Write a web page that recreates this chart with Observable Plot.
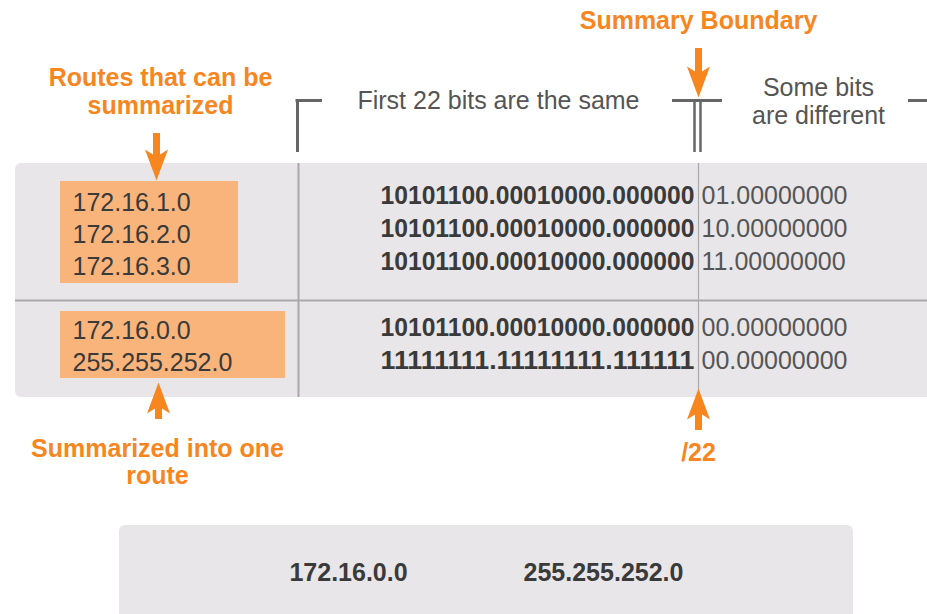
<!DOCTYPE html>
<html>
<head>
<meta charset="utf-8">
<script src="https://cdn.jsdelivr.net/npm/d3@7"></script>
<script src="https://cdn.jsdelivr.net/npm/@observablehq/plot@0.6"></script>
<style>
  html, body { margin: 0; padding: 0; background: #fff; }
  #chart svg { display: block; }
  #chart svg text { font-family: "Liberation Sans", Arial, sans-serif; }
</style>
</head>
<body>
<div id="chart"></div>
<script>
// ---- content ----
const routes = ["172.16.1.0", "172.16.2.0", "172.16.3.0"];
const summaryRoute = ["172.16.0.0", "255.255.252.0"];
const routeCommonBits = ["10101100.00010000.000000", "10101100.00010000.000000", "10101100.00010000.000000"];
const routeOtherBits = ["01.00000000", "10.00000000", "11.00000000"];
const summaryCommonBits = ["10101100.00010000.000000", "11111111.11111111.111111"];
const summaryOtherBits = ["00.00000000", "00.00000000"];
const prefixLength = 22;
const headerSame = `First ${prefixLength} bits are the same`;
const headerDiff = "Some bits\nare different";
const boundaryLabel = "Summary Boundary";
const routesLabel = "Routes that can be\nsummarized";
const summarizedLabel = "Summarized into one\nroute";
const prefixLabel = `/${prefixLength}`;

// ---- layout (diagram coordinates, pixels) ----
const W = 927, H = 614;
const ORANGE = "#f7861f", BOX = "#f9b47c", PANEL = "#e8e6e8";
const DARK = "#3a3a3a", MID = "#555555", LINE = "#a9a9a9", BRACKET = "#666666";
const FONT = "Liberation Sans";
const panel = {x1: 15, x2: W + 20, y1: 163, y2: 397, split: 300};
const colLeft = 298, boundaryX = 698;
const bitsWidth = 314; // rendered width of the common-prefix column
const rowTop = (i) => 195 + i * 33;
const rowBot = (i) => 327 + i * 33;
const routeTop = (i) => 202 + i * 32;
const routeBot = (i) => 330 + i * 32;
const FS = 25;

const topRows = routes.map((r, i) => ({route: r, common: routeCommonBits[i], other: routeOtherBits[i], yb: rowTop(i), yr: routeTop(i)}));
const botRows = summaryRoute.map((r, i) => ({route: r, common: summaryCommonBits[i], other: summaryOtherBits[i], yb: rowBot(i), yr: routeBot(i)}));
const rows = topRows.concat(botRows);

// arrowhead symbol, pointing up, origin at the tip
const HEAD_LEN = 31, HEAD_JOIN = 26;
const arrowHead = {
  draw(context) {
    context.moveTo(0, 0);
    context.lineTo(11.5, HEAD_LEN);
    context.lineTo(3.5, HEAD_JOIN);
    context.lineTo(-3.5, HEAD_JOIN);
    context.lineTo(-11.5, HEAD_LEN);
    context.closePath();
  }
};
function arrow(x, yTip, yTail) {
  const down = yTail < yTip;
  const join = down ? yTip - HEAD_JOIN + 6 : yTip + HEAD_JOIN - 6;
  return [
    Plot.ruleX([x], {y1: yTail, y2: join, stroke: ORANGE, strokeWidth: 7}),
    Plot.dot([x], {x: d => d, y: () => yTip, symbol: arrowHead, rotate: down ? 180 : 0, fill: ORANGE, stroke: "none"})
  ];
}

const T = (data, opts) => Plot.text(data, {fontFamily: FONT, fontSize: FS, lineAnchor: "middle", ...opts});

const chart = Plot.plot({
  width: W,
  height: H,
  margin: 0,
  x: {domain: [0, W], axis: null},
  y: {domain: [H, 0], axis: null},
  style: {fontFamily: FONT, background: "#fff"},
  marks: [
    Plot.rect([panel], {x1: "x1", x2: "x2", y1: "y1", y2: "y2", fill: PANEL, rx: 6}),
    Plot.rect([{x1: 119, x2: 853, y1: 525, y2: H + 20}], {x1: "x1", x2: "x2", y1: "y1", y2: "y2", fill: PANEL, rx: 6}),
    Plot.ruleY([panel.split], {x1: panel.x1, x2: W, stroke: LINE, strokeWidth: 2}),
    Plot.ruleX([colLeft], {y1: panel.y1, y2: panel.y2, stroke: LINE, strokeWidth: 2}),
    Plot.ruleX([boundaryX], {y1: panel.y1, y2: panel.y2, stroke: LINE, strokeWidth: 1.2}),
    Plot.ruleX([colLeft - 1], {y1: 99, y2: 152, stroke: BRACKET, strokeWidth: 3}),
    Plot.ruleY([100], {x1: colLeft - 2.5, x2: 322, stroke: BRACKET, strokeWidth: 3}),
    Plot.ruleY([100], {x1: boundaryX - 26, x2: boundaryX + 24, stroke: BRACKET, strokeWidth: 3}),
    Plot.ruleX([boundaryX - 4, boundaryX + 2], {y1: 100, y2: 152, stroke: BRACKET, strokeWidth: 2.5}),
    Plot.ruleY([100], {x1: 908, x2: W, stroke: BRACKET, strokeWidth: 3}),
    T([headerSame], {x: 498, y: 100, text: d => d, fill: MID}),
    T([headerDiff], {x: 818, y: 101, text: d => d, fill: MID, lineHeight: 1.12}),
    T([boundaryLabel], {x: 698, y: 20, text: d => d, fontWeight: "bold", fill: ORANGE}),
    T([routesLabel], {x: 160, y: 91, text: d => d, fontWeight: "bold", fill: ORANGE, lineHeight: 1.12}),
    T([summarizedLabel], {x: 157, y: 461, text: d => d, fontWeight: "bold", fill: ORANGE, lineHeight: 1.1}),
    T([prefixLabel], {x: 698, y: 452, text: d => d, fontWeight: "bold", fill: ORANGE}),
    Plot.rect([{x1: 60, x2: 238, y1: 181, y2: 283}, {x1: 60, x2: 285, y1: 311, y2: 378}], {x1: "x1", x2: "x2", y1: "y1", y2: "y2", fill: BOX}),
    ...arrow(698, 97, 48),
    ...arrow(156, 180, 133),
    ...arrow(158, 382, 419),
    ...arrow(698, 388, 430),
    T(rows, {x: 72, y: "yr", text: "route", fill: DARK, textAnchor: "start"}),
    T(rows, {x: boundaryX - 4, y: "yb", text: "common", fontWeight: "bold", fill: DARK, textAnchor: "end"}),
    T(rows, {x: boundaryX + 3, y: "yb", text: "other", fill: MID, textAnchor: "start"}),
    T(summaryRoute, {x: (d, i) => [348, 603][i], y: 572, text: d => d, fontWeight: "bold", fill: DARK})
  ]
});
// fixed-width digit column: the prefix bits line up as in the original
const bitSet = new Set(routeCommonBits.concat(summaryCommonBits));
d3.select(chart).selectAll("text").each(function () {
  if (bitSet.has(this.textContent)) {
    this.setAttribute("textLength", bitsWidth);
    this.setAttribute("lengthAdjust", "spacingAndGlyphs");
  }
});
document.getElementById("chart").append(chart);
</script>
</body>
</html>
